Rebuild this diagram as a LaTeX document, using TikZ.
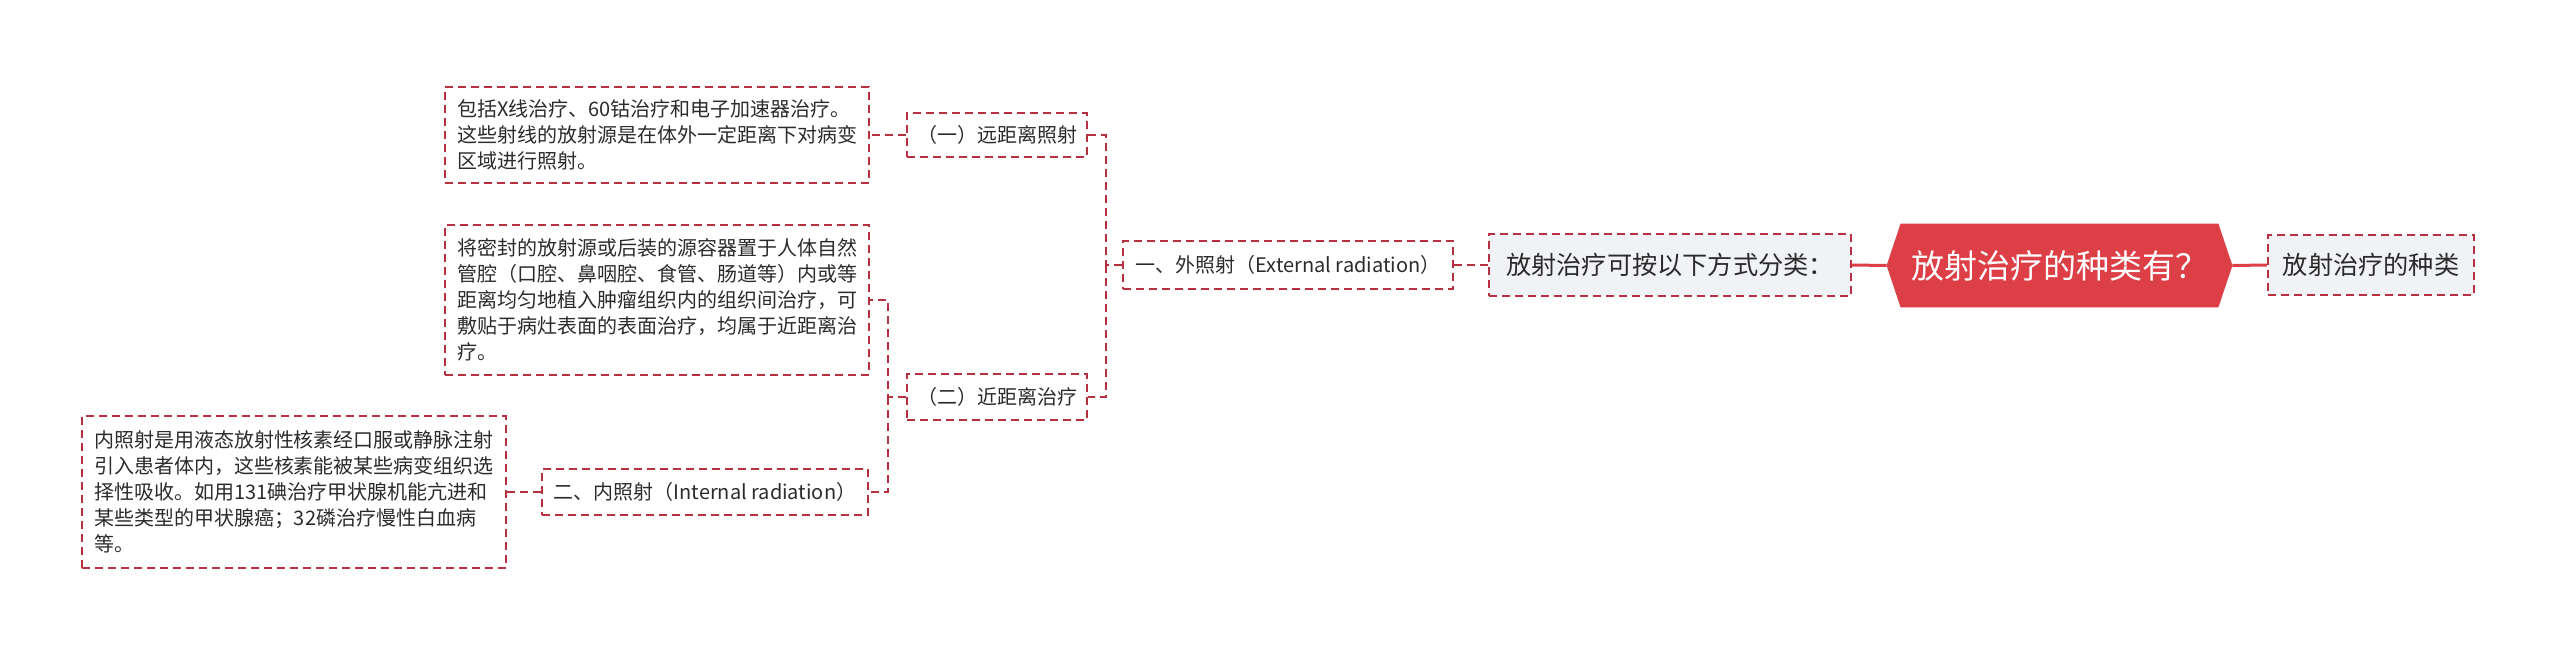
\documentclass[tikz,border=0pt]{standalone}
\usepackage{fontspec}
\setmainfont{Noto Sans CJK SC}
\usetikzlibrary{backgrounds}

\definecolor{rootred}{HTML}{DC3F46}
\definecolor{linkred}{HTML}{B73042}
\definecolor{boxgray}{HTML}{F0F2F5}
\definecolor{inkgray}{HTML}{2B2B2B}

\tikzset{
  dashbox/.style={draw=linkred, dash pattern=on 4pt off 2.5pt, line width=0.9pt,
    text=inkgray, inner sep=0pt, font=\fontsize{10pt}{13pt}\selectfont},
  graybox/.style={dashbox, fill=boxgray, font=\fontsize{12.6pt}{15pt}\selectfont},
  notebox/.style={dashbox, align=left, text width=200pt, inner xsep=6pt},
  link/.style={draw=linkred, dash pattern=on 4pt off 2.5pt, line width=0.9pt},
  trunk/.style={draw=rootred, line width=1.5pt},
}

\begin{document}
\begin{tikzpicture}[x=0.5pt,y=-0.5pt]
    \useasboundingbox (0,0) rectangle (2560,653);
    % centre topic
    \node[minimum width=172.5pt, minimum height=41.5pt, text=white,
      font=\fontsize{16.5pt}{20pt}\selectfont] (root) at (2059.5,265.5) {放射治疗的种类有？};
    \begin{pgfonlayer}{background}
      \fill[rootred] (root.west) -- ([xshift=7pt]root.north west) -- ([xshift=-7pt]root.north east)
        -- (root.east) -- ([xshift=-7pt]root.south east) -- ([xshift=7pt]root.south west) -- cycle;
    \end{pgfonlayer}
    \node[graybox, minimum width=103pt, minimum height=30pt] (n2) at (2371,265) {放射治疗的种类};
    \node[graybox, minimum width=181pt, minimum height=31pt] (n3) at (1670,265) {放射治疗可按以下方式分类：};
    % branches
    \node[dashbox, minimum width=165pt, minimum height=24pt] (n4) at (1288,265) {一、外照射（External radiation）};
    \node[dashbox, minimum width=90pt, minimum height=22pt] (n5) at (997,135) {（一）远距离照射};
    \node[dashbox, minimum width=90pt, minimum height=23pt] (n6) at (997,397) {（二）近距离治疗};
    \node[dashbox, minimum width=163pt, minimum height=23pt] (n7) at (705,492) {二、内照射（Internal radiation）};
    % notes
    \node[notebox, minimum height=48pt] (d1) at (657,135) {包括X线治疗、60钴治疗和电子加速器治疗。\\这些射线的放射源是在体外一定距离下对病变\\区域进行照射。};
    \node[notebox, minimum height=75pt] (d2) at (657,300) {将密封的放射源或后装的源容器置于人体自然\\管腔（口腔、鼻咽腔、食管、肠道等）内或等\\距离均匀地植入肿瘤组织内的组织间治疗，可\\敷贴于病灶表面的表面治疗，均属于近距离治\\疗。};
    \node[notebox, minimum height=76pt] (d3) at (294,492) {内照射是用液态放射性核素经口服或静脉注射\\引入患者体内，这些核素能被某些病变组织选\\择性吸收。如用131碘治疗甲状腺机能亢进和\\某些类型的甲状腺癌；32磷治疗慢性白血病\\等。};
    % connectors
    \draw[trunk] (root.west) -- (n3.east);
    \draw[trunk] (root.east) -- (n2.west);
    \draw[link] (n3.west) -- (n4.east);
    \coordinate (j1) at (1106,265);
    \draw[link] (n4.west) -- (j1) |- (n5.east);
    \draw[link] (j1) |- (n6.east);
    \draw[link] (n5.west) -- (d1.east);
    \coordinate (j2) at (888,397);
    \draw[link] (n6.west) -- (j2) |- (d2.east);
    \draw[link] (j2) |- (n7.east);
    \draw[link] (n7.west) -- (d3.east);
\end{tikzpicture}
\end{document}
